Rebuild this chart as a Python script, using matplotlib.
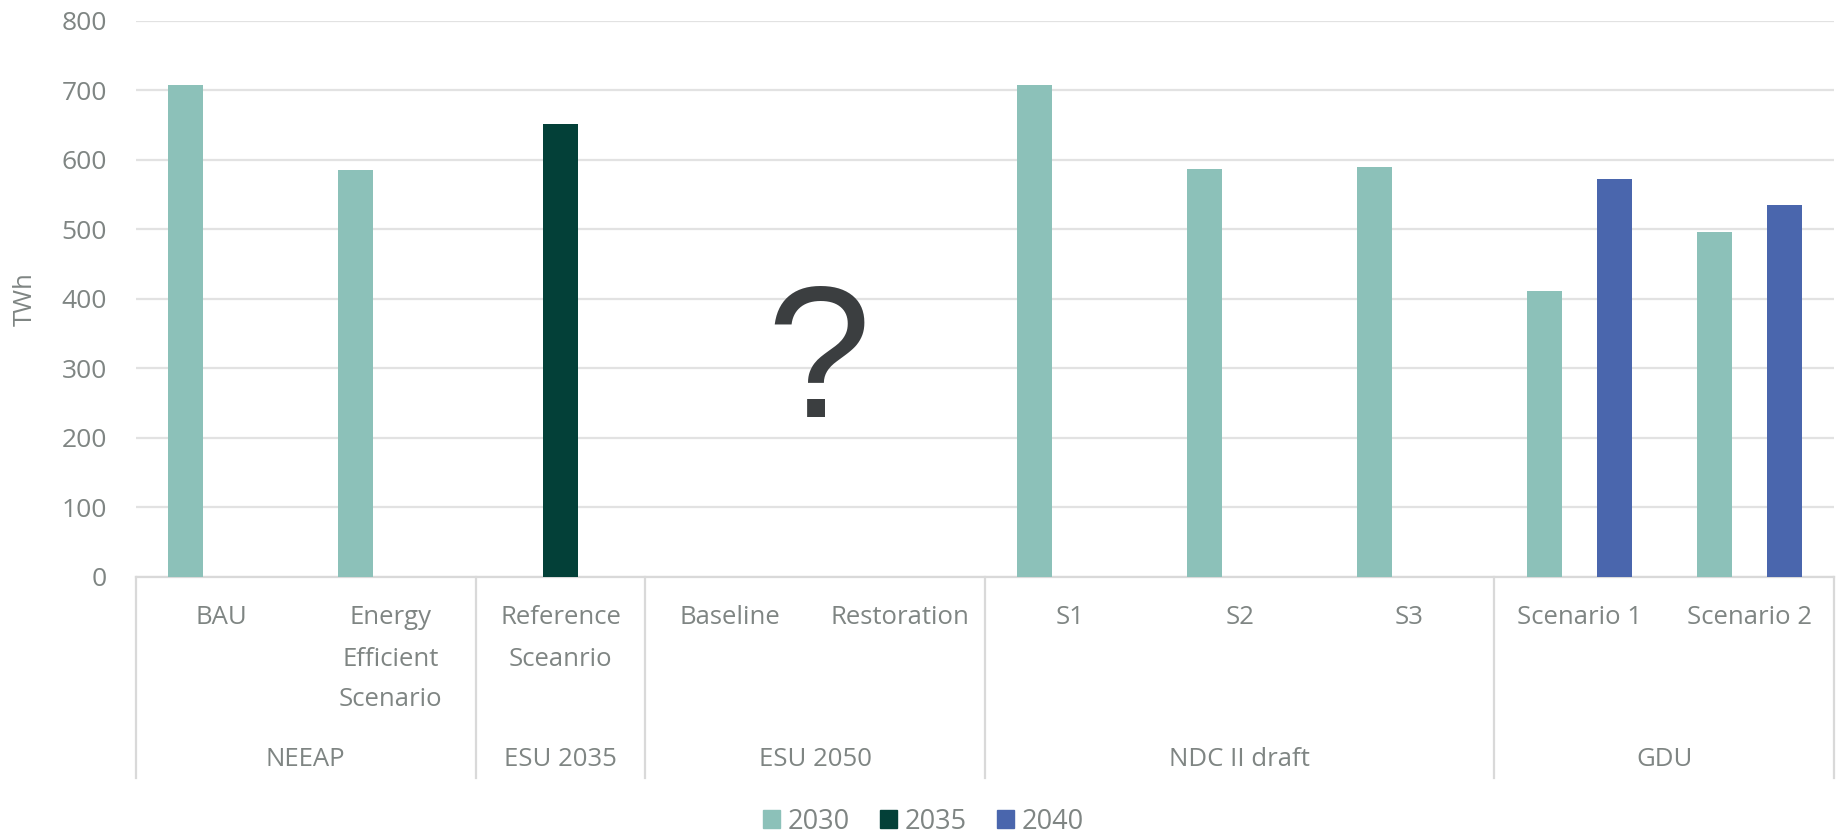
import numpy as np
import matplotlib
matplotlib.use("Agg")
import matplotlib.pyplot as plt
from matplotlib.patches import Patch

# categories and groups (bottom two levels of the x axis)
categories = ["BAU", "Energy\nEfficient\nScenario", "Reference\nSceanrio",
              "Baseline", "Restoration", "S1", "S2", "S3",
              "Scenario 1", "Scenario 2"]
groups = ["NEEAP", "ESU 2035", "ESU 2050", "NDC II draft", "GDU"]
group_sizes = [2, 1, 2, 3, 2]

series = ["2030", "2035", "2040"]
nan = np.nan
v2030 = [707, 586, nan, nan, nan, 708, 587, 589, 411, 496]
v2035 = [nan, nan, 651, nan, nan, nan, nan, nan, nan, nan]
v2040 = [nan, nan, nan, nan, nan, nan, nan, nan, 573, 535]
colors = ["#8cc1b9", "#034038", "#4a66ad"]

txt = "#7f8583"
grid_c = "#e2e2e2"
fs = 18.5
plt.rcParams['font.family'] = ['Open Sans', 'DejaVu Sans']

fig = plt.figure(figsize=(18.36, 8.36), dpi=100)
ax = fig.add_axes([136 / 1836, 1 - 577 / 836, 1698 / 1836, 556.3 / 836])

x = np.arange(len(categories))
w = 0.206
for k, vals in enumerate([v2030, v2035, v2040]):
    ax.bar(x + (k - 1) * w, vals, width=w, color=colors[k], zorder=3)

ax.set_xlim(-0.5, len(categories) - 0.5)
ax.set_ylim(0, 800)
ax.set_yticks(range(0, 801, 100))
ax.grid(axis="y", color=grid_c, lw=1.6, zorder=0)
ax.set_xticks([])
ax.tick_params(axis="y", length=0, pad=21, labelsize=19, labelcolor=txt)
for s in ["top", "right", "left"]:
    ax.spines[s].set_visible(False)
ax.spines["bottom"].set_color("#d9d9d9")
ax.spines["bottom"].set_linewidth(1.6)
ax.set_ylabel("TWh", fontsize=fs, color=txt)
ax.yaxis.set_label_coords((25 - 136) / 1698, 0.5)
ax.yaxis.label.set_va("center")

# multi-level category axis
ah = 556.3
tr = ax.get_xaxis_transform()
line_y = [(577 - 617) / ah, (577 - 659) / ah, (577 - 700) / ah]
for i, lab in enumerate(categories):
    for j, part in enumerate(lab.split("\n")):
        ax.text(i, line_y[j], part, transform=tr, ha="center", va="center",
                fontsize=fs, color=txt)

bottom = (577 - 778) / ah
edges = np.concatenate([[0], np.cumsum(group_sizes)]) - 0.5
for e in edges:
    ax.plot([e, e], [0, bottom], transform=tr, color="#d9d9d9", lw=1.6,
            clip_on=False)
for g, a, b in zip(groups, edges[:-1], edges[1:]):
    ax.text((a + b) / 2, (577 - 760) / ah, g, transform=tr, ha="center",
            va="center", fontsize=fs, color=txt)

# question mark over ESU 2050
ax.text(3.52, 230, "?", ha="center", va="baseline", fontsize=135,
        family="Liberation Sans", color="#3b3e40", zorder=4)

handles = [Patch(color=c, label=s) for c, s in zip(colors, series)]
fig.legend(handles=handles, loc="center", bbox_to_anchor=(0.503, 0.017),
           ncol=3, frameon=False, fontsize=19.5, labelcolor=txt,
           handlelength=0.62, handleheight=0.62, handletextpad=0.3,
           columnspacing=1.1)

fig.savefig("out.png", dpi=100)
